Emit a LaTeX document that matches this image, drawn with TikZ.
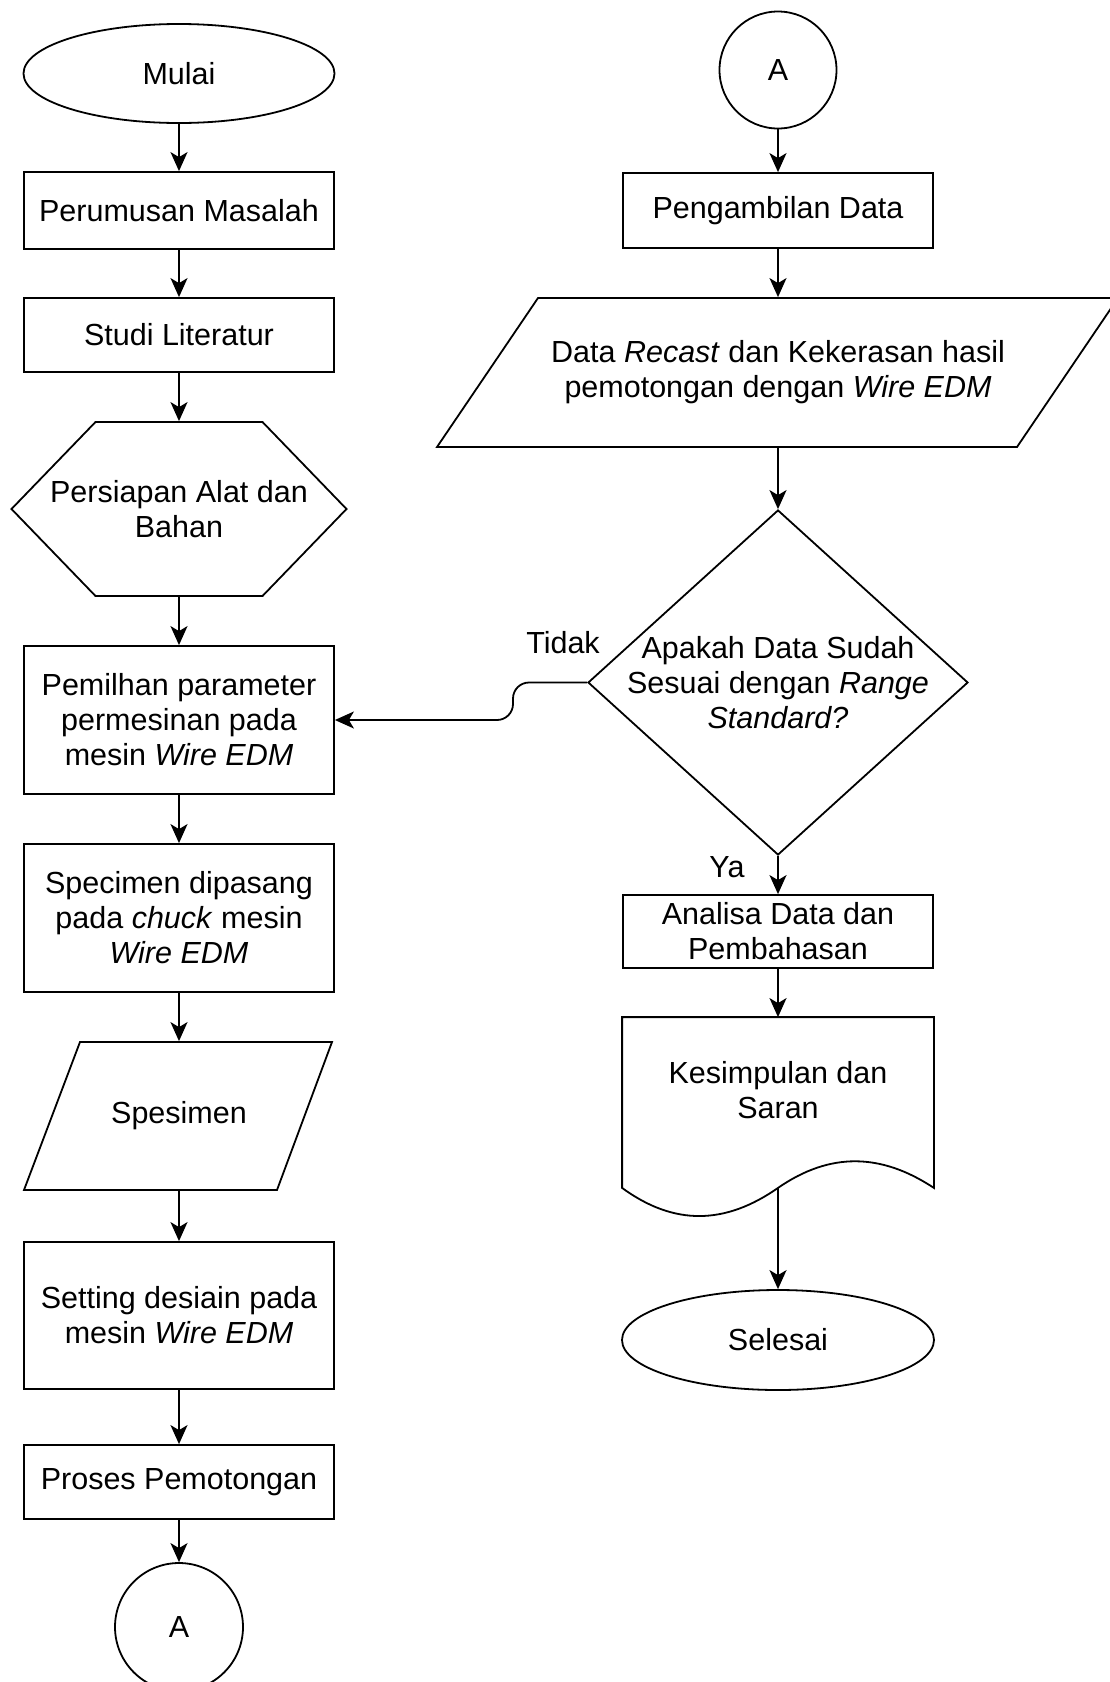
\documentclass[tikz,border=0pt]{standalone}
\usepackage{fontspec}
\setmainfont{Liberation Sans}
\usetikzlibrary{shapes.geometric,arrows.meta}

\begin{document}
\begin{tikzpicture}[x=1pt,y=-1pt,line width=1.8pt,font=\fontsize{30.5}{35}\selectfont,
panah/.style={-{Stealth[length=19pt,width=17pt,inset=5pt]}},
kotak/.style={rectangle,draw,minimum width=310pt,inner sep=0pt,align=center},
terminal/.style={ellipse,draw,minimum width=311pt,minimum height=99pt,inner sep=0pt},
konektor/.style={circle,draw,inner sep=0pt},
bidang/.style={rectangle,inner sep=0pt,align=center},
keputusan/.style={diamond,draw,minimum width=380pt,minimum height=345pt,inner sep=0pt}]
\useasboundingbox[fill=white] (0,0) rectangle (1110,1682);

\node[terminal] (mulai) at (179,73.5) {Mulai};
\node[kotak,minimum height=77pt] (rumus) at (179,210.5) {Perumusan Masalah};
\node[kotak,minimum height=74pt] (studi) at (179,335) {Studi Literatur};
\node[bidang,minimum height=174pt] (siap) at (179,509) {Persiapan Alat dan\\Bahan};
\node[kotak,minimum height=148pt] (pilih) at (179,720) {Pemilhan parameter\\permesinan pada\\mesin \textit{Wire EDM}};
\node[kotak,minimum height=148pt] (pasang) at (179,918) {Specimen dipasang\\pada \textit{chuck} mesin\\\textit{Wire EDM}};
\node[bidang,minimum height=148pt] (spesimen) at (179,1116) {Spesimen};
\node[kotak,minimum height=147pt] (setting) at (179,1315.5) {Setting desiain pada\\mesin \textit{Wire EDM}};
\node[kotak,minimum height=74pt] (potong) at (179,1482) {Proses Pemotongan};
\node[konektor,minimum size=128pt] (konB) at (179,1627) {A};

\node[konektor,minimum size=117pt] (konA) at (778,70) {A};
\node[kotak,minimum height=75pt] (ambil) at (778,210.5) {Pengambilan Data};
\node[bidang,minimum height=149pt] (recast) at (778,372.5) {Data \textit{Recast} dan Kekerasan hasil\\pemotongan dengan \textit{Wire EDM}};
\node[keputusan,label={[align=center]center:{Apakah Data Sudah\\Sesuai dengan \textit{Range}\\\textit{Standard?}}}] (cek) at (778,682.5) {};
\node[kotak,minimum height=73pt] (analisa) at (778,931.5) {Analisa Data dan\\Pembahasan};
\node[bidang,minimum width=310pt,minimum height=169pt,label={[align=center,yshift=12pt]center:{Kesimpulan dan\\Saran}}] (simpul) at (778,1102.5) {};
\node[terminal,minimum width=312pt,minimum height=100pt] (selesai) at (778,1340) {Selesai};

\node (tidak) at (563,643) {Tidak};
\node (ya) at (727,867) {Ya};

\draw (siap.center) +(-83.5,-87) -- +(83.5,-87) -- +(167.5,0) -- +(83.5,87) -- +(-83.5,87) -- +(-167.5,0) -- cycle;
\draw (spesimen.center) +(-99,-74) -- +(153,-74) -- +(98,74) -- +(-155,74) -- cycle;
\draw (recast.center) +(-240,-74.5) -- +(340,-74.5) -- +(239,74.5) -- +(-341,74.5) -- cycle;
\draw (simpul.north west) -- (simpul.north east) -- (simpul.south east)
   .. controls +(-53,-35) and +(52,-36) .. (simpul.south)
   .. controls +(-53,37) and +(52,38) .. (simpul.south west) -- cycle;

\foreach \a/\b in {mulai/rumus,rumus/studi,studi/siap,siap/pilih,pilih/pasang,pasang/spesimen,spesimen/setting,setting/potong,potong/konB,konA/ambil,ambil/recast,recast/cek,cek/analisa,analisa/simpul,simpul/selesai}
   \draw[panah] (\a) -- (\b);

\coordinate (tekuk) at (513,682.5);
\draw[panah,rounded corners=16pt] (cek.west) -- (tekuk) |- (pilih.east);
\end{tikzpicture}
\end{document}
